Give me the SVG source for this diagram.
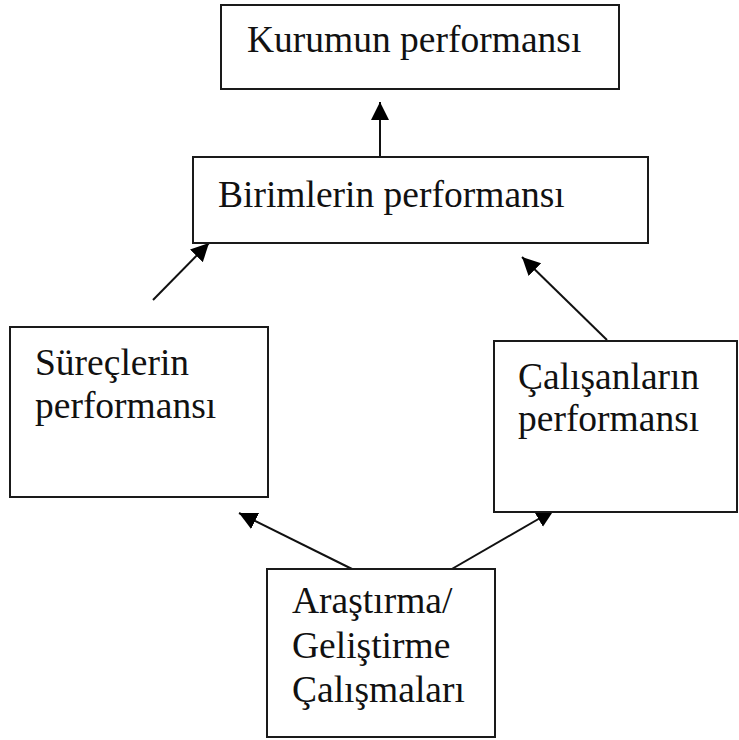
<svg xmlns="http://www.w3.org/2000/svg" width="739" height="740" viewBox="0 0 739 740">
  <style>
    .box { fill: #ffffff; stroke: #1a1a1a; stroke-width: 2; }
    .lbl { font-family: "Liberation Serif", "Times New Roman", serif; font-size: 37.5px; fill: #111111; }
    .link { stroke: #111111; stroke-width: 2; fill: none; marker-end: url(#head); }
  </style>
  <defs>
    <marker id="head" markerUnits="userSpaceOnUse" markerWidth="20" markerHeight="20" refX="18" refY="9" orient="auto">
      <path d="M0,0 L18,9 L0,18 Z" fill="#000000"/>
    </marker>
  </defs>
  <rect width="739" height="740" fill="#ffffff"/>

  <g id="connectors">
    <line class="link" x1="380" y1="157" x2="380" y2="102"/>
    <line class="link" x1="153" y1="300" x2="209" y2="243"/>
    <line class="link" x1="607" y1="340" x2="522" y2="257"/>
    <line class="link" x1="352" y1="569" x2="239" y2="513"/>
    <line class="link" x1="438" y1="577" x2="554" y2="510"/>
  </g>

  <g id="kurum">
    <rect class="box" x="221" y="5" width="398" height="84"/>
    <text class="lbl" x="247" y="52">Kurumun performansı</text>
  </g>

  <g id="birimler">
    <rect class="box" x="193" y="157" width="455" height="86"/>
    <text class="lbl" x="218" y="207">Birimlerin performansı</text>
  </g>

  <g id="surecler">
    <rect class="box" x="10" y="327" width="258" height="170"/>
    <text class="lbl" x="35" y="375">Süreçlerin</text>
    <text class="lbl" x="35" y="418">performansı</text>
  </g>

  <g id="calisanlar">
    <rect class="box" x="494" y="341" width="243" height="171"/>
    <text class="lbl" x="518" y="389">Çalışanların</text>
    <text class="lbl" x="518" y="431">performansı</text>
  </g>

  <g id="arge">
    <rect class="box" x="267" y="569" width="228" height="168"/>
    <text class="lbl" x="292" y="613">Araştırma/</text>
    <text class="lbl" x="292" y="658">Geliştirme</text>
    <text class="lbl" x="292" y="702">Çalışmaları</text>
  </g>
</svg>
